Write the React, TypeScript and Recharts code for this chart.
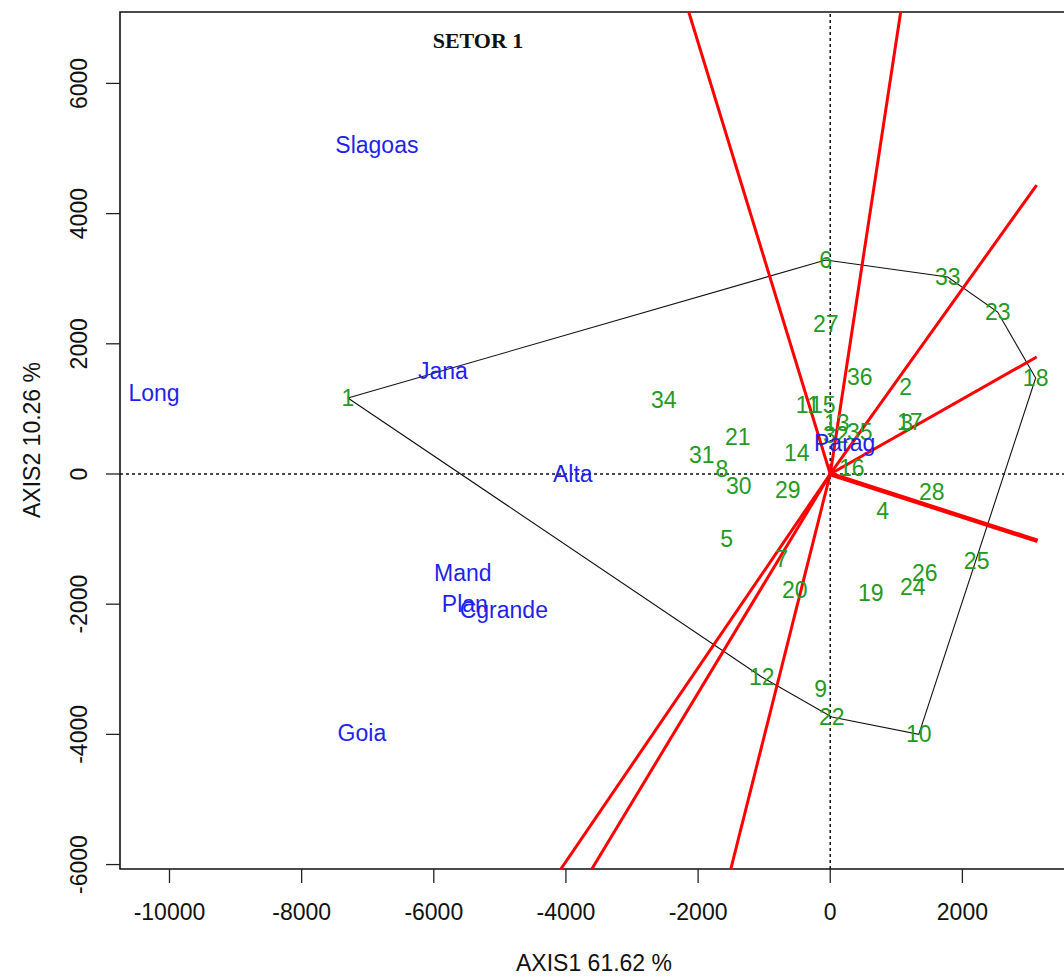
import React from 'react';
import { ScatterChart, Scatter, XAxis, YAxis, ReferenceLine, ReferenceArea } from 'recharts';

// Observation (site) scores
const siteLabels = ['1','2','3','4','5','6','7','8','9','10','11','12','13','14','15','16','17','18','19','20','21','22','23','24','25','26','27','28','29','30','31','32','33','34','35','36'];
const siteX = [-7300, 1142, 1157, 794, -1566, -68, -734, -1641, -144, 1340, -340, -1036, 98, -507, -113, 325, 1203, 3109, 613, -537, -1399, 23, 2534, 1248, 2216, 1430, -68, 1536, -643, -1384, -1944, 83, 1778, -2519, 446, 446];
const siteY = [1167, 1336, 783, -568, -998, 3287, -1306, 77, -3303, -4000, 1060, -3118, 783, 323, 1060, 92, 799, 1475, -1828, -1782, 568, -3733, 2488, -1736, -1336, -1521, 2304, -276, -246, -184, 292, 599, 3026, 1137, 645, 1490];

// Variable labels
const varLabels = ['Slagoas', 'Long', 'Jana', 'Alta', 'Mand', 'Plan', 'Cgrande', 'Goia', 'Parag'];
const varX = [-6861, -10235, -5862, -3896, -5560, -5530, -4940, -7088, 219];
const varY = [5054, 1244, 1582, 0, -1521, -1997, -2089, -3978, 476];

// Red loading vectors (from origin)
const vectorEndX = [-2141, 1066, 3124, 3124, 3139, -4077, -3608, -1505];
const vectorEndY = [7097, 7097, 4439, 1797, -1029, -6068, -6068, -6068];

// Convex hull order (site labels)
const hullOrder = ['1', '6', '33', '23', '18', '10', '22', '12', '1'];

const xTicks = [-10000, -8000, -6000, -4000, -2000, 0, 2000];
const yTicks = [-6000, -4000, -2000, 0, 2000, 4000, 6000];

const X_DOMAIN: [number, number] = [-10749, 3674];
const Y_DOMAIN: [number, number] = [-6068, 7097];

const FONT = '"Liberation Sans", Arial, sans-serif';
const GREEN = '#249a24';
const BLUE = '#1f1fee';

const siteData = siteLabels.map((l, i) => ({ x: siteX[i], y: siteY[i], label: l }));
const varData = varLabels.map((l, i) => ({ x: varX[i], y: varY[i], label: l }));
const hullData = hullOrder.map((l) => {
  const i = siteLabels.indexOf(l);
  return { x: siteX[i], y: siteY[i] };
});
const vectors = vectorEndX.map((ex, i) => [
  { x: 0, y: 0 },
  { x: ex, y: vectorEndY[i] },
]);

const makeLabelShape = (color: string) => (props: any) => {
  const { cx, cy, payload } = props;
  if (cx == null || cy == null) return <g />;
  return (
    <text
      x={cx}
      y={cy}
      textAnchor="middle"
      dominantBaseline="central"
      fill={color}
      fontFamily={FONT}
      fontSize={23}
    >
      {payload.label}
    </text>
  );
};

const emptyShape = () => <g />;

const XTick = (props: any) => {
  const { x, payload } = props;
  return (
    <text x={x} y={920} textAnchor="middle" fontFamily={FONT} fontSize={23} fill="#111">
      {payload.value}
    </text>
  );
};

const YTick = (props: any) => {
  const { y, payload } = props;
  return (
    <text
      x={79}
      y={y}
      transform={`rotate(-90, 79, ${y})`}
      textAnchor="middle"
      dominantBaseline="central"
      fontFamily={FONT}
      fontSize={23}
      fill="#111"
    >
      {payload.value}
    </text>
  );
};

export default function App() {
  return (
    <div
      style={{
        position: 'absolute',
        left: 0,
        top: 0,
        width: 1064,
        height: 978,
        overflow: 'hidden',
        background: '#fff',
      }}
    >
      <ScatterChart width={1100} height={978} margin={{ top: 12, right: 27, left: 0, bottom: 0 }}>
        <XAxis
          type="number"
          dataKey="x"
          domain={X_DOMAIN}
          allowDataOverflow
          ticks={xTicks}
          interval={0}
          height={109}
          tickSize={14}
          axisLine={false}
          tickLine={{ stroke: '#222', strokeWidth: 1.3 }}
          tick={<XTick />}
        />
        <YAxis
          type="number"
          dataKey="y"
          domain={Y_DOMAIN}
          allowDataOverflow
          ticks={yTicks}
          interval={0}
          width={120}
          tickSize={14}
          axisLine={false}
          tickLine={{ stroke: '#222', strokeWidth: 1.3 }}
          tick={<YTick />}
        />
        <ReferenceLine x={0} stroke="#111" strokeWidth={1.5} strokeDasharray="3 3" />
        <ReferenceLine y={0} stroke="#111" strokeWidth={1.5} strokeDasharray="3 3" />
        <Scatter
          data={hullData}
          line={{ stroke: '#111', strokeWidth: 1.1 }}
          shape={emptyShape}
          isAnimationActive={false}
        />
        {vectors.map((v, i) => (
          <Scatter
            key={`vec-${i}`}
            data={v}
            line={{ stroke: '#ff0000', strokeWidth: i === 4 ? 4.5 : 3 }}
            shape={emptyShape}
            isAnimationActive={false}
          />
        ))}
        <Scatter data={siteData} shape={makeLabelShape(GREEN)} isAnimationActive={false} />
        <Scatter data={varData} shape={makeLabelShape(BLUE)} isAnimationActive={false} />
        <ReferenceArea
          x1={X_DOMAIN[0]}
          x2={X_DOMAIN[1]}
          y1={Y_DOMAIN[0]}
          y2={Y_DOMAIN[1]}
          fill="none"
          fillOpacity={0}
          stroke="#111"
          strokeWidth={1.6}
          ifOverflow="visible"
        />
      </ScatterChart>
      <svg
        width={1064}
        height={978}
        style={{ position: 'absolute', left: 0, top: 0, pointerEvents: 'none' }}
      >
        <text
          x={478}
          y={48}
          textAnchor="middle"
          fontFamily='"Liberation Serif", "Times New Roman", serif'
          fontWeight="bold"
          fontSize={22}
          fill="#111"
        >
          SETOR 1
        </text>
        <text x={594} y={971} textAnchor="middle" fontFamily={FONT} fontSize={23} fill="#111">
          AXIS1 61.62 %
        </text>
        <text
          x={32}
          y={440}
          transform="rotate(-90, 32, 440)"
          textAnchor="middle"
          dominantBaseline="central"
          fontFamily={FONT}
          fontSize={23}
          fill="#111"
        >
          AXIS2 10.26 %
        </text>
      </svg>
    </div>
  );
}
